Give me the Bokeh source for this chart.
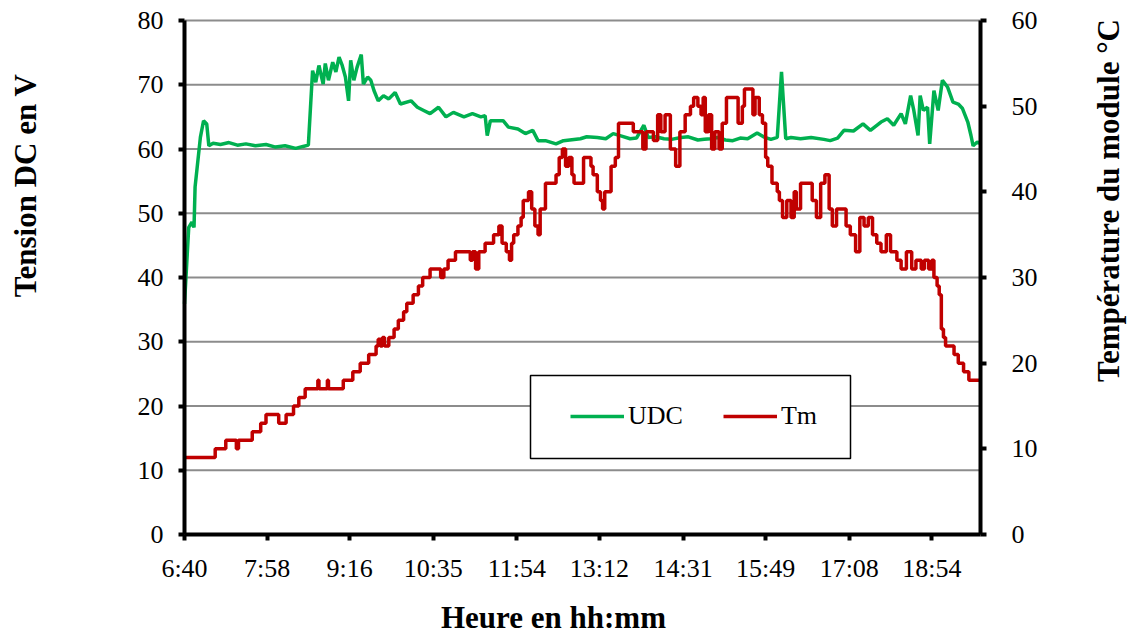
import math
from bokeh.plotting import figure
from bokeh.models import (Range1d, LinearAxis, FixedTicker, Legend, LegendItem, Label,
                          BoxAnnotation)
from bokeh.embed import file_html
from bokeh.resources import INLINE

# ---------------- data ----------------
# time in minutes after 6:40 (category-like axis, ticks every ~78.5 min)
tick_minutes = [0, 78, 156, 235, 314, 392, 471, 549, 628, 706]
tick_labels = ["6:40", "7:58", "9:16", "10:35", "11:54", "13:12", "14:31", "15:49", "17:08", "18:54"]
t_end = 752

udc_t = [0, 4, 7, 9, 10, 15, 18, 21, 23, 27, 34, 42, 50, 58, 67, 77, 86, 95, 105, 112, 117,
         121, 124, 127, 131, 133, 136, 140, 143, 146, 149, 152, 155, 157, 160, 163, 167, 169,
         173, 176, 179, 183, 188, 193, 199, 204, 214, 220, 226, 232, 240, 247, 254, 264, 272,
         280, 284, 286, 289, 301, 306, 315, 322, 329, 334, 341, 351, 358, 374, 380, 390, 398,
         405, 413, 421, 427, 434, 438, 445, 453, 460, 469, 476, 485, 491, 497, 504, 511, 518,
         525, 532, 541, 547, 554, 560, 564, 568, 573, 582, 592, 604, 610, 617, 623, 632, 641,
         648, 658, 664, 670, 677, 681, 686, 689, 693, 695, 698, 702, 704, 708, 712, 716, 721,
         726, 731, 735, 740, 743, 745, 749, 752]
udc = [35.9, 47.8, 48.6, 47.8, 54.1, 61.8, 64.4, 63.9, 60.5, 60.9, 60.7, 61.0, 60.6, 60.8,
       60.5, 60.7, 60.3, 60.5, 60.1, 60.4, 60.6,
       72.2, 70.4, 73.0, 70.1, 73.3, 70.7, 73.5, 72.0, 74.3, 73.0, 71.2, 67.5, 73.8, 70.7,
       72.7, 74.7, 70.1,
       71.2, 70.7, 69.1, 67.5, 68.3, 67.8, 68.8, 67.0, 67.5, 66.5, 66.0, 65.5, 66.5, 65.0,
       65.7, 65.0, 65.5,
       65.0, 65.2, 62.1, 64.4, 64.4, 63.4, 63.1, 62.4, 62.9, 61.3, 61.3, 60.8, 61.3, 61.6,
       61.9, 61.8, 61.6,
       62.4, 62.0, 61.6, 61.7, 63.7, 61.8, 61.9, 61.6, 61.5, 61.8, 61.9, 61.4, 61.5, 61.6,
       61.8, 61.4, 61.3,
       61.7, 61.6, 62.5, 61.9, 61.5, 61.8, 72.0, 61.6, 61.8, 61.6, 61.8, 61.5, 61.3, 61.7,
       62.9, 62.8, 63.9,
       62.9, 64.2, 64.7, 63.7, 65.5, 63.9, 68.3, 66.0, 62.1, 68.3, 66.0, 66.5, 60.8, 69.1,
       66.0, 70.7, 69.6,
       67.3, 67.0, 66.3, 64.2, 62.1, 60.5, 61.1, 60.8]

tm_t = [0, 29, 39, 49, 51, 64, 72, 77, 89, 96, 103, 108, 114, 126, 127, 135, 136, 150, 159,
        166, 174, 181, 183, 185, 187, 189, 193, 198, 202, 207, 210, 216, 221, 225, 232, 242,
        245, 249, 256, 270, 272, 275, 278, 284, 292, 297, 300, 304, 307, 309, 311, 315, 318,
        320, 325, 328, 331, 334, 336, 341, 351, 354, 357, 360, 363, 366, 368, 377, 384, 386,
        390, 393, 395, 397, 403, 407, 410, 424, 433, 436, 443, 447, 450, 454, 459, 464, 468,
        473, 478, 481, 485, 488, 490, 492, 495, 498, 501, 505, 508, 512, 523, 527, 529, 537,
        539, 543, 546, 549, 551, 555, 560, 562, 565, 569, 573, 576, 578, 582, 593, 597, 601,
        605, 609, 612, 616, 625, 629, 634, 638, 642, 646, 650, 654, 658, 663, 667, 673, 677,
        682, 687, 691, 696, 699, 703, 706, 708, 711, 713, 715, 717, 719, 727, 731, 736, 741,
        752]
tm = [9, 10, 11, 10, 11, 12, 13, 14, 13, 14, 15, 16, 17, 18, 17, 18, 17, 18, 19,
      20, 21, 22, 22.8, 22, 23, 22, 23, 24, 25, 26, 27, 28, 29, 30, 31, 30,
      31, 32, 33, 32, 33, 31, 33, 34, 35, 36, 34, 33, 32, 34, 35, 36, 37,
      39, 40, 38, 36, 35, 38, 41, 42, 44, 45, 43, 44, 42, 41, 44, 43, 42,
      40, 39, 38, 40, 43, 44, 48, 47, 45, 47, 46, 49, 47, 49, 45, 43, 47,
      49, 50, 51, 50, 49, 51, 47, 49, 45, 47, 45, 48, 51, 48, 50, 52, 49,
      51, 49, 48, 44, 43, 41, 40, 39, 37, 39, 37, 40, 38, 41, 39, 37, 41,
      42, 38, 36, 38, 36, 35, 33, 37, 36, 37, 35, 34, 33, 35, 33, 32, 31,
      33, 31, 32, 31, 32, 31, 32, 30, 29, 28, 24, 23, 22, 21, 20, 19, 18,
      18]

left_ticks = [0, 10, 20, 30, 40, 50, 60, 70, 80]
right_ticks = [0, 10, 20, 30, 40, 50, 60]

y_left_title = "Tension DC en V"
y_right_title = "Température du module °C"
x_title = "Heure en hh:mm"

# ---------------- layout (pixels) ----------------
W, H = 1134, 637
FL, FR, FT, FB = 184, 980, 20, 534          # plot-area edges on the canvas
V_MAX, T_MAX = left_ticks[-1], right_ticks[-1]
ppx = (FR - FL) / t_end
ppv = (FB - FT) / V_MAX
ppt = (FB - FT) / T_MAX

SERIF = "Liberation Serif"
GREEN = "#00B050"
RED = "#C00000"

# the frame covers the whole canvas; axes are pinned at the plot-area edges
p = figure(width=W, height=H, output_backend="svg", toolbar_location=None,
           x_range=Range1d(-FL / ppx, t_end + (W - FR) / ppx),
           y_range=Range1d(-(H - FB) / ppv, V_MAX + FT / ppv),
           min_border=0, min_border_left=0, min_border_right=0,
           min_border_top=0, min_border_bottom=0,
           x_axis_location=None, y_axis_location=None)
p.outline_line_color = None
p.background_fill_color = "white"
p.border_fill_color = "white"
p.extra_y_ranges = {"temp": Range1d(-(H - FB) / ppt, T_MAX + FT / ppt)}
p.xgrid.visible = False
p.ygrid.visible = False

# horizontal grid lines at the left-axis ticks, spanning the plot area
p.segment(x0=[0] * len(left_ticks), x1=[t_end] * len(left_ticks),
          y0=left_ticks, y1=left_ticks, line_color="#8c8c8c", line_width=2)

def style_axis(ax, standoff):
    ax.axis_line_width = 4
    ax.axis_line_color = "black"
    ax.major_tick_line_width = 4
    ax.major_tick_line_color = "black"
    ax.major_tick_out = 6
    ax.major_tick_in = 0
    ax.minor_tick_line_color = None
    ax.major_label_text_font = SERIF
    ax.major_label_text_font_size = "26px"
    ax.major_label_text_color = "black"
    ax.major_label_standoff = standoff

# series
g = p.line(udc_t, udc, line_color=GREEN, line_width=3.5)
r = p.step(tm_t, tm, mode="after", line_color=RED, line_width=3.5, y_range_name="temp")

yl = LinearAxis(ticker=FixedTicker(ticks=left_ticks), fixed_location=0, bounds=(0, V_MAX))
style_axis(yl, 15)
p.add_layout(yl, "left")

yr = LinearAxis(y_range_name="temp", ticker=FixedTicker(ticks=right_ticks),
                fixed_location=t_end, bounds=(0, T_MAX))
style_axis(yr, 25)
p.add_layout(yr, "right")

xb = LinearAxis(ticker=FixedTicker(ticks=tick_minutes), fixed_location=0, bounds=(0, t_end))
style_axis(xb, 13)
xb.major_label_overrides = {t: l for t, l in zip(tick_minutes, tick_labels)}
p.add_layout(xb, "below")

# axis titles (screen px from the canvas bottom-left corner)
def title(text, x, y, angle):
    p.add_layout(Label(text=text, x=x, y=y, x_units="screen", y_units="screen",
                       angle=angle, text_align="center", text_baseline="middle",
                       text_font=SERIF, text_font_size="31px", text_font_style="bold",
                       text_color="black"))

title(y_left_title, 25, H - 185, math.pi / 2)
title(y_right_title, 1108, H - 200, math.pi / 2)
title(x_title, 553, H - 617, 0)

# legend frame (white box with black border) and the legend entries on top of it
p.add_layout(BoxAnnotation(left=530, right=850, bottom=H - 458, top=H - 375,
                           left_units="screen", right_units="screen",
                           bottom_units="screen", top_units="screen",
                           fill_color="white", fill_alpha=1.0,
                           line_color="black", line_width=1.5, line_alpha=1.0))

legend = Legend(items=[LegendItem(label="UDC", renderers=[g]),
                       LegendItem(label="Tm", renderers=[r])],
                orientation="horizontal", location=(570, H - 431),
                glyph_width=54, glyph_height=20, label_standoff=4, spacing=40,
                padding=0, margin=0,
                label_text_font=SERIF, label_text_font_size="26px",
                label_text_color="black",
                border_line_color=None,
                background_fill_color="white", background_fill_alpha=0.0)
p.add_layout(legend, "center")

open("out.html", "w").write(file_html(p, INLINE))
